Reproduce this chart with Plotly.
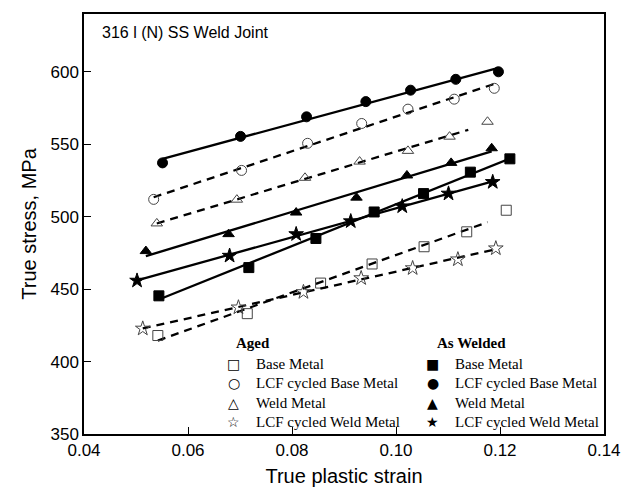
import numpy as np
import plotly.graph_objects as go

# True plastic strain / true stress (MPa) for each condition
aged_base_x = [0.0542, 0.0714, 0.0855, 0.0954, 0.1054, 0.1136, 0.1212]
aged_base_y = [418.0, 433.1, 454.2, 467.4, 479.3, 489.6, 504.5]

aged_lcf_base_x = [0.0534, 0.0703, 0.0830, 0.0934, 0.1023, 0.1112, 0.1189]
aged_lcf_base_y = [512.0, 532.0, 550.7, 564.4, 574.3, 581.2, 588.7]

aged_weld_x = [0.0540, 0.0694, 0.0825, 0.0930, 0.1023, 0.1103, 0.1176]
aged_weld_y = [495.4, 511.8, 526.9, 538.1, 545.5, 555.3, 565.6]

aged_lcf_weld_x = [0.0513, 0.0697, 0.0822, 0.0933, 0.1032, 0.1119, 0.1192]
aged_lcf_weld_y = [422.8, 437.4, 448.0, 457.6, 464.5, 470.6, 478.2]

aw_base_x = [0.0544, 0.0717, 0.0846, 0.0958, 0.1053, 0.1143, 0.1219]
aw_base_y = [445.4, 464.9, 485.0, 503.3, 516.0, 530.8, 540.0]

aw_lcf_base_x = [0.0551, 0.0701, 0.0828, 0.0942, 0.1028, 0.1115, 0.1197]
aw_lcf_base_y = [537.2, 555.5, 569.0, 579.5, 587.4, 594.9, 600.1]

aw_weld_x = [0.0519, 0.0678, 0.0808, 0.0924, 0.1021, 0.1106, 0.1184]
aw_weld_y = [476.3, 488.0, 502.9, 513.2, 528.5, 537.2, 547.3]

aw_lcf_weld_x = [0.0502, 0.0680, 0.0808, 0.0913, 0.1012, 0.1101, 0.1186]
aw_lcf_weld_y = [455.9, 473.1, 488.0, 496.9, 507.2, 516.0, 524.0]

# strain span over which each linear fit is drawn
aged_base_fit = [0.0542, 0.1176]
aged_lcf_base_fit = [0.0534, 0.1189]
aged_weld_fit = [0.0540, 0.1139]
aged_lcf_weld_fit = [0.0513, 0.1192]
aw_base_fit = [0.0544, 0.1219]
aw_lcf_base_fit = [0.0551, 0.1197]
aw_weld_fit = [0.0519, 0.1184]
aw_lcf_weld_fit = [0.0502, 0.1186]

x_ticks = [0.04, 0.06, 0.08, 0.10, 0.12, 0.14]
y_ticks = [350, 400, 450, 500, 550, 600]

series = [
    (aged_base_x, aged_base_y, aged_base_fit, "square-open", "dash"),
    (aged_lcf_base_x, aged_lcf_base_y, aged_lcf_base_fit, "circle-open", "dash"),
    (aged_weld_x, aged_weld_y, aged_weld_fit, "triangle-up-open", "dash"),
    (aged_lcf_weld_x, aged_lcf_weld_y, aged_lcf_weld_fit, "star-open", "dash"),
    (aw_base_x, aw_base_y, aw_base_fit, "square", "solid"),
    (aw_lcf_base_x, aw_lcf_base_y, aw_lcf_base_fit, "circle", "solid"),
    (aw_weld_x, aw_weld_y, aw_weld_fit, "triangle-up", "solid"),
    (aw_lcf_weld_x, aw_lcf_weld_y, aw_lcf_weld_fit, "star", "solid"),
]

fig = go.Figure()
for xs, ys, span, sym, dash in series:
    k, b = np.polyfit(np.array(xs), np.array(ys), 1)
    xl = np.array(span)
    fig.add_trace(go.Scatter(
        x=xl, y=k * xl + b, mode="lines",
        line=dict(color="black", width=2.3, dash="8px,6px" if dash == "dash" else "solid"),
        showlegend=False, hoverinfo="skip"))
    is_open = sym.endswith("-open")
    fig.add_trace(go.Scatter(
        x=xs, y=ys, mode="markers",
        marker=dict(symbol=sym, size=11 if "star" in sym else 10,
                    color="#444" if is_open else "black",
                    line=dict(color="#444" if is_open else "black", width=1)),
        showlegend=False))

axis_font = dict(family="Liberation Sans, Arial", size=17, color="black")
fig.update_xaxes(range=[0.04, 0.14], tickvals=x_ticks,
                 ticktext=[f"{v:.2f}" for v in x_ticks],
                 ticks="inside", ticklen=7, tickcolor="black",
                 ticklabeloverflow="allow",
                 showline=True, linecolor="black", linewidth=1.5, mirror=True,
                 showgrid=False, zeroline=False, tickfont=axis_font,
                 title=dict(text="True plastic strain",
                            font=dict(family="Liberation Sans, Arial", size=20, color="black"),
                            standoff=10))
fig.update_yaxes(range=[350, 640], tickvals=y_ticks,
                 ticks="inside", ticklen=7, tickcolor="black",
                 showline=True, linecolor="black", linewidth=1.5, mirror=True,
                 showgrid=False, zeroline=False, tickfont=axis_font,
                 title=dict(text="True stress, MPa",
                            font=dict(family="Liberation Sans, Arial", size=20, color="black"),
                            standoff=8))

L, R, T, B = 84, 616, 12, 435
ann = [dict(text="316 l (N) SS Weld Joint", x=(100 - L) / (R - L), y=0.955,
            xref="paper", yref="paper",
            xanchor="left", yanchor="middle", showarrow=False,
            font=dict(family="Liberation Sans, Arial", size=16, color="black"))]

serif = "Liberation Serif, Times New Roman"
legend_rows = ["Base Metal", "LCF cycled Base Metal", "Weld Metal", "LCF cycled Weld Metal"]
aged_syms = ["\u25a1", "\u25cb", "\u25b3", "\u2606"]
aw_syms = ["\u25a0", "\u25cf", "\u25b2", "\u2605"]
col_sym_x = [237, 441]
col_txt_x = [258, 462]
head_x = [257, 480]
px_to_x = lambda p: (p - L) / (R - L)
px_to_y = lambda p: (B - p) / (B - T)
for hx, head in zip(head_x, ["Aged", "As Welded"]):
    ann.append(dict(text=f"<b>{head}</b>", x=px_to_x(hx), y=px_to_y(343),
                    xref="paper", yref="paper", showarrow=False,
                    xanchor="center", yanchor="middle",
                    font=dict(family=serif, size=15, color="black")))
for c, syms in enumerate([aged_syms, aw_syms]):
    for r, (s, lab) in enumerate(zip(syms, legend_rows)):
        yp = 364 + r * 19.7
        ann.append(dict(text=s, x=px_to_x(col_sym_x[c]), y=px_to_y(yp),
                        xref="paper", yref="paper", showarrow=False,
                        xanchor="center", yanchor="middle",
                        font=dict(family="DejaVu Sans", size=14, color="black")))
        ann.append(dict(text=lab, x=px_to_x(col_txt_x[c]), y=px_to_y(yp),
                        xref="paper", yref="paper", showarrow=False,
                        xanchor="left", yanchor="middle",
                        font=dict(family=serif, size=15, color="black")))

fig.update_layout(width=633, height=496,
                  margin=dict(l=L, r=633 - R, t=T, b=496 - B),
                  paper_bgcolor="white", plot_bgcolor="white",
                  annotations=ann, showlegend=False)

fig.write_html("out.html")
